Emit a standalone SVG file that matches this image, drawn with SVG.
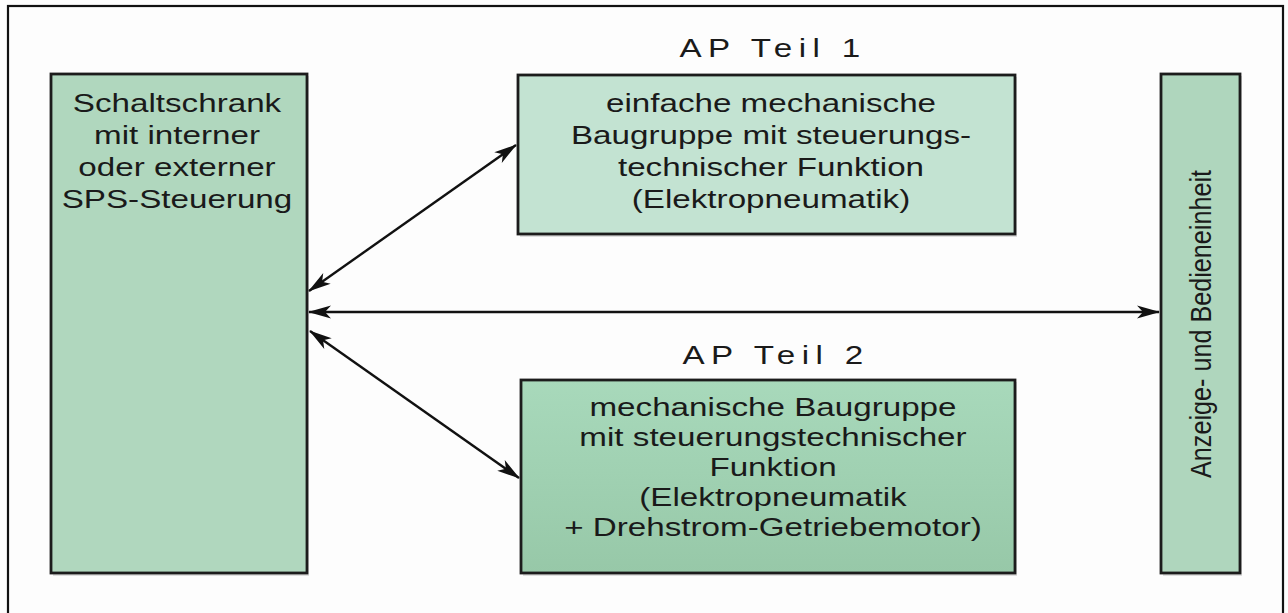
<svg xmlns="http://www.w3.org/2000/svg" width="1288" height="613" viewBox="0 0 1288 613">
  <defs>
    <style>
      .box { stroke: #1c1c1c; stroke-width: 2.8; }
      .shadow { fill: #000; opacity: 0.12; }
      .t { font-family: "Liberation Sans", Arial, sans-serif; font-size: 26px; fill: #1a1a1a; text-anchor: middle; }
      .ap { font-family: "Liberation Sans", Arial, sans-serif; font-size: 26px; fill: #1a1a1a; text-anchor: middle; letter-spacing: 5px; }
      .conn { stroke: #111; stroke-width: 2.4; fill: none; marker-start: url(#ah); marker-end: url(#ah); }
    </style>
    <marker id="ah" markerUnits="userSpaceOnUse" markerWidth="24" markerHeight="16" refX="22" refY="7" orient="auto-start-reverse" viewBox="0 0 24 14">
      <path d="M0,0.5 L23,7 L0,13.5 L6,7 Z" fill="#111"/>
    </marker>
    <linearGradient id="g2" x1="0" y1="0" x2="0" y2="1">
      <stop offset="0" stop-color="#a8d9bb"/>
      <stop offset="1" stop-color="#97c8a8"/>
    </linearGradient>
  </defs>

  <rect x="0" y="0" width="1288" height="613" fill="#fdfdfd"/>
  <rect id="frame" x="8" y="6" width="1275" height="630" fill="none" stroke="#111" stroke-width="2.2"/>

  <g id="schaltschrank">
    <rect class="shadow" x="53" y="76" width="256" height="500"/>
    <rect class="box" x="51" y="74" width="256" height="499" fill="#b0d7be"/>
    <g transform="translate(177,0) scale(1.277,1)">
      <text class="t" x="0" y="112">Schaltschrank</text>
      <text class="t" x="0" y="144">mit interner</text>
      <text class="t" x="0" y="176">oder externer</text>
      <text class="t" x="0" y="208">SPS-Steuerung</text>
    </g>
  </g>

  <g id="ap1">
    <g transform="translate(773,0) scale(1.277,1)">
      <text class="ap" x="0" y="57">AP Teil 1</text>
    </g>
    <rect class="shadow" x="520" y="77" width="497" height="160"/>
    <rect class="box" x="518" y="75" width="497" height="159" fill="#c3e3d2"/>
    <g transform="translate(771,0) scale(1.277,1)">
      <text class="t" x="0" y="112">einfache mechanische</text>
      <text class="t" x="0" y="144">Baugruppe mit steuerungs-</text>
      <text class="t" x="0" y="176">technischer Funktion</text>
      <text class="t" x="0" y="208">(Elektropneumatik)</text>
    </g>
  </g>

  <g id="ap2">
    <g transform="translate(776,0) scale(1.277,1)">
      <text class="ap" x="0" y="364">AP Teil 2</text>
    </g>
    <rect class="shadow" x="523" y="382" width="494" height="194"/>
    <rect class="box" x="521" y="380" width="494" height="193" fill="url(#g2)"/>
    <g transform="translate(773,0) scale(1.277,1)">
      <text class="t" x="0" y="416">mechanische Baugruppe</text>
      <text class="t" x="0" y="446">mit steuerungstechnischer</text>
      <text class="t" x="0" y="476">Funktion</text>
      <text class="t" x="0" y="506">(Elektropneumatik</text>
      <text class="t" x="0" y="536">+ Drehstrom-Getriebemotor)</text>
    </g>
  </g>

  <g id="anzeige">
    <rect class="shadow" x="1163" y="76" width="79" height="500"/>
    <rect class="box" x="1161" y="74" width="79" height="499" fill="#afd6bd"/>
    <text transform="translate(1211,324) rotate(-90)" x="0" y="0" font-family="'Liberation Sans', Arial, sans-serif" font-size="29" fill="#1a1a1a" text-anchor="middle" textLength="308" lengthAdjust="spacingAndGlyphs">Anzeige- und Bedieneinheit</text>
  </g>

  <g id="connectors">
    <line class="conn" x1="309" y1="291" x2="516" y2="145"/>
    <line class="conn" x1="309" y1="312" x2="1159" y2="312"/>
    <line class="conn" x1="310" y1="331" x2="519" y2="478"/>
  </g>
</svg>
